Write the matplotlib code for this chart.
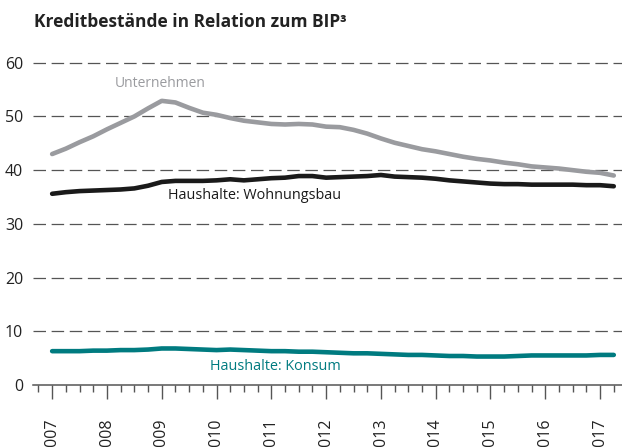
import matplotlib.pyplot as plt
import numpy as np
from matplotlib.ticker import MultipleLocator

plt.rcParams['font.family'] = ['Open Sans', 'DejaVu Sans']

# quarterly observations, 2007Q1 .. 2017Q2
quarters = np.arange(42) * 0.25 + 2007

unternehmen = [43.0, 44.0, 45.2, 46.3, 47.6, 48.8, 50.0, 51.5,
               52.9, 52.6, 51.6, 50.7, 50.3, 49.7, 49.2, 48.9,
               48.6, 48.5, 48.6, 48.5, 48.1, 48.0, 47.5, 46.8,
               45.9, 45.1, 44.5, 43.9, 43.5, 43.0, 42.5, 42.1,
               41.8, 41.4, 41.1, 40.7, 40.5, 40.3, 40.0, 39.7,
               39.5, 39.0]
wohnungsbau = [35.6, 35.9, 36.1, 36.2, 36.3, 36.4, 36.6, 37.1,
               37.8, 38.0, 38.0, 38.0, 38.1, 38.3, 38.1, 38.3,
               38.5, 38.6, 38.9, 38.9, 38.6, 38.7, 38.8, 38.9,
               39.1, 38.8, 38.7, 38.6, 38.4, 38.1, 37.9, 37.7,
               37.5, 37.4, 37.4, 37.3, 37.3, 37.3, 37.3, 37.2,
               37.2, 37.0]
konsum = [6.3, 6.3, 6.3, 6.4, 6.4, 6.5, 6.5, 6.6,
          6.8, 6.8, 6.7, 6.6, 6.5, 6.6, 6.5, 6.4,
          6.3, 6.3, 6.2, 6.2, 6.1, 6.0, 5.9, 5.9,
          5.8, 5.7, 5.6, 5.6, 5.5, 5.4, 5.4, 5.3,
          5.3, 5.3, 5.4, 5.5, 5.5, 5.5, 5.5, 5.5,
          5.6, 5.6]

years = list(range(2007, 2018))
y_ticks = [0, 10, 20, 30, 40, 50, 60]

grey = '#9a9b9f'
black = '#1a1a1a'
teal = '#007b80'

fig = plt.figure(figsize=(6.22, 4.47), dpi=100)
ax = fig.add_axes([0.053, 0.1387, 0.947, 0.733])

# dashed reference lines
for v in y_ticks[1:]:
    ax.axhline(v, color='#555555', lw=0.9, dashes=(10, 4.5), zorder=1)

ax.plot(quarters, unternehmen, color=grey, lw=3.3, solid_capstyle='round', zorder=3)
ax.plot(quarters, wohnungsbau, color=black, lw=3.3, solid_capstyle='round', zorder=3)
ax.plot(quarters, konsum, color=teal, lw=3.3, solid_capstyle='round', zorder=3)

ax.text(2008.97, 56.1, 'Unternehmen', color=grey, fontsize=10, ha='center', va='center')
ax.text(2009.12, 35.3, 'Haushalte: Wohnungsbau', color=black, fontsize=10.4, ha='left', va='center')
ax.text(2011.08, 3.4, 'Haushalte: Konsum', color=teal, fontsize=10.4, ha='center', va='center')

ax.set_xlim(2006.65, 2017.40)
ax.set_ylim(0, 61)

ax.set_yticks(y_ticks)
ax.set_yticklabels([str(v) for v in y_ticks])
ax.tick_params(axis='y', length=0, pad=7, labelsize=11.5, labelcolor='#222222')

ax.set_xticks(years)
ax.set_xticklabels([str(y) for y in years], rotation=90, va='top')
ax.xaxis.set_minor_locator(MultipleLocator(0.25))
ax.tick_params(axis='x', which='major', direction='out', length=10, width=1,
               color='#555555', pad=14, labelsize=11.5, labelcolor='#222222')
ax.tick_params(axis='x', which='minor', direction='out', length=5, width=1,
               color='#555555')

for s in ['top', 'right', 'left']:
    ax.spines[s].set_visible(False)
ax.spines['bottom'].set_color('#555555')
ax.spines['bottom'].set_linewidth(1.1)

fig.text(0.055, 0.95, 'Kreditbestände in Relation zum BIP³', fontsize=12.5,
         fontweight='bold', color='#222222', ha='left', va='center')

fig.savefig('out.png', dpi=100)
